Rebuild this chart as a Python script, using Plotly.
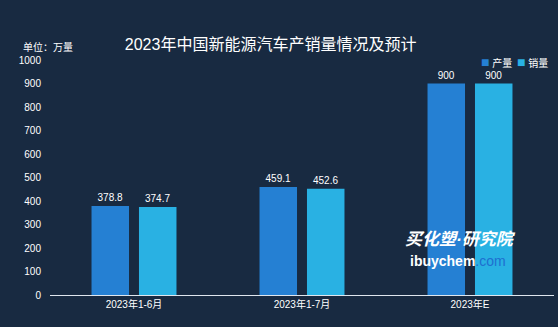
import plotly.graph_objects as go

categories = ["2023年1-6月", "2023年1-7月", "2023年E"]
production = [378.8, 459.1, 900]
sales = [374.7, 452.6, 900]
y_ticks = [0, 100, 200, 300, 400, 500, 600, 700, 800, 900, 1000]
series_names = ["产量", "销量"]
series_colors = ["#2580d3", "#29b1e3"]

bg = "#182a41"
font = "Liberation Sans, Noto Sans CJK SC, sans-serif"

fig = go.Figure()
for name, vals, col in zip(series_names, [production, sales], series_colors):
    fig.add_trace(go.Bar(name=name, x=categories, y=vals, marker_color=col,
                         marker_line_width=0, showlegend=False,
                         text=[f"{v:g}" for v in vals], textposition="outside",
                         textfont=dict(color="white", size=10), cliponaxis=False))

fig.update_layout(
    width=558, height=327,
    paper_bgcolor=bg, plot_bgcolor=bg,
    margin=dict(l=50, r=4, t=60, b=32),
    font=dict(family=font, color="white", size=10),
    barmode="group", bargap=0.435, bargroupgap=0.21,
    title=dict(text="2023年中国新能源汽车产销量情况及预计", x=0.485, xanchor="center",
               y=0.865, yanchor="middle", font=dict(size=16, color="white")),
    showlegend=False,
    xaxis=dict(showgrid=False, showline=True, linecolor="#dfe6ee", linewidth=1,
               ticks="", tickfont=dict(size=10, color="white")),
    yaxis=dict(range=[0, 1000], tickvals=y_ticks, showgrid=False, zeroline=False,
               showline=False, ticks="", tickfont=dict(size=10, color="white"),
               ticklabelstandoff=8),
)

# legend drawn as text entries
legend_x = [0.852, 0.922]
for name, col, lx in zip(series_names, series_colors, legend_x):
    fig.add_annotation(text=f"<span style='color:{col};font-size:14px'>■</span> {name}",
                       xref="paper", yref="paper", x=lx, y=0.99, xanchor="left",
                       yanchor="middle", showarrow=False,
                       font=dict(size=10, color="white"))

fig.add_annotation(text="单位：万量", xref="paper", yref="paper", x=-0.057, y=1.055,
                   xanchor="left", yanchor="middle", showarrow=False,
                   font=dict(size=10, color="white"))
fig.add_annotation(text="<b><i>买化塑·研究院</i></b>", xref="paper", yref="paper",
                   x=0.815, y=0.235, xanchor="center", yanchor="middle", showarrow=False,
                   font=dict(size=17, color="white"))
fig.add_annotation(text="<b>ibuychem</b><span style='color:#1e6fd0'>.com</span>",
                   xref="paper", yref="paper", x=0.81, y=0.145, xanchor="center",
                   yanchor="middle", showarrow=False, font=dict(size=14, color="white"))

fig.write_html("out.html")
